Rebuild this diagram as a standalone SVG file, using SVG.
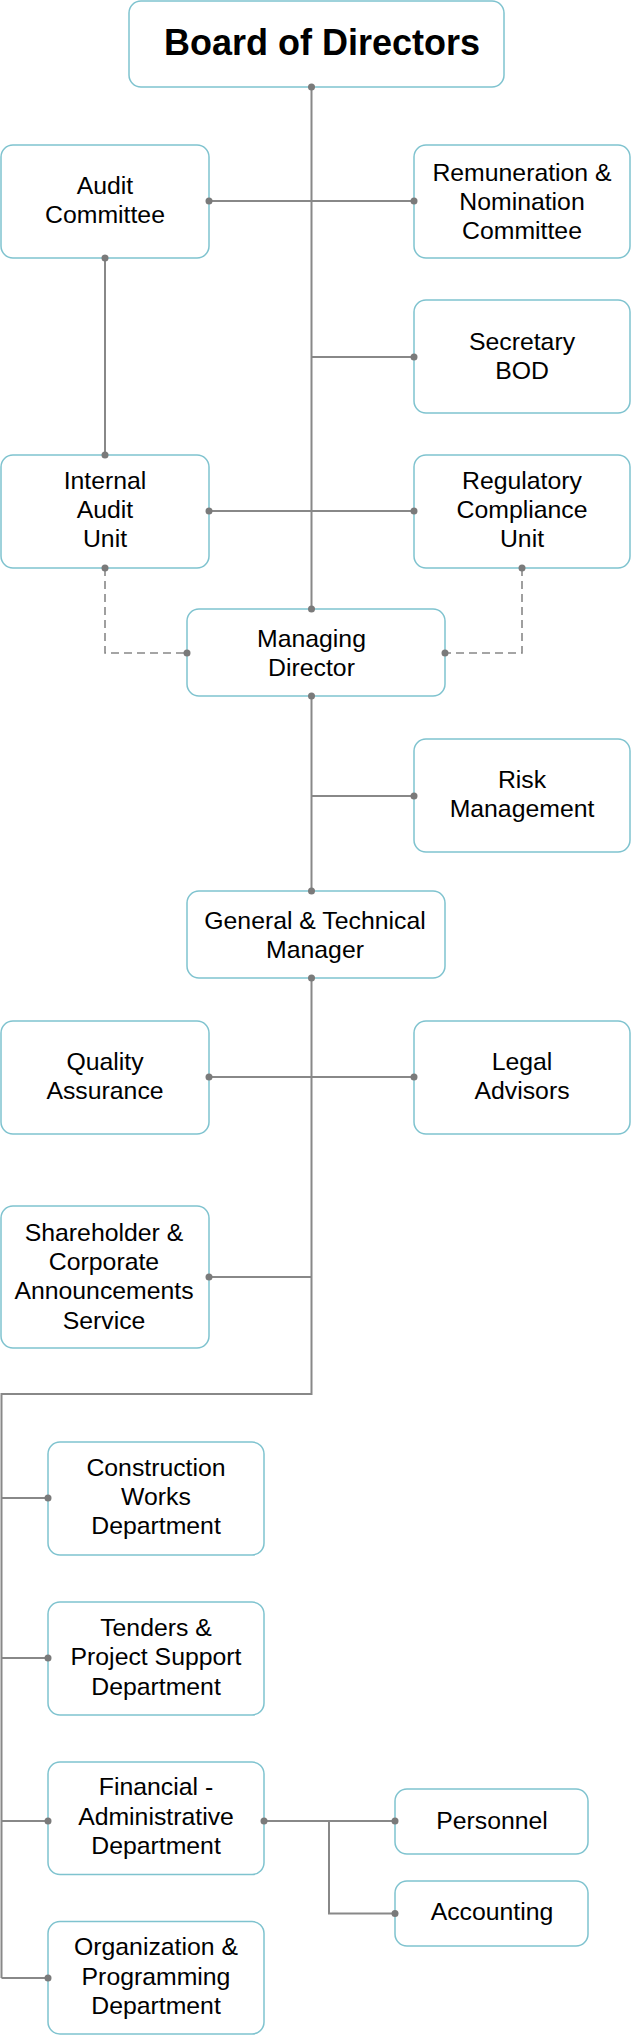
<svg xmlns="http://www.w3.org/2000/svg" width="631" height="2035" viewBox="0 0 631 2035">
<style>
.box{fill:#fff;stroke:#7fc3cf;stroke-width:1.5}
.t{font-family:"Liberation Sans",Arial,sans-serif;font-size:24.8px;fill:#000;text-anchor:middle}
.tb{font-family:"Liberation Sans",Arial,sans-serif;font-size:36px;font-weight:bold;fill:#000;text-anchor:middle}
.ln{fill:none;stroke:#888;stroke-width:2}
.dl{fill:none;stroke:#888;stroke-width:1.6;stroke-dasharray:8 5}
.dot{fill:#7a7a7a}
</style>
<rect width="631" height="2035" fill="#fff"/>
<g id="board"><rect class="box" x="129" y="1" width="375" height="86" rx="12"/><text class="tb" x="322" y="55">Board of Directors</text></g>
<g id="audit"><rect class="box" x="1" y="145" width="208" height="113" rx="12"/><text class="t" x="105" y="194">Audit</text><text class="t" x="105" y="223">Committee</text></g>
<g id="remuneration"><rect class="box" x="414" y="145" width="216" height="113" rx="12"/><text class="t" x="522" y="181">Remuneration &amp;</text><text class="t" x="522" y="210">Nomination</text><text class="t" x="522" y="238.5">Committee</text></g>
<g id="secretary"><rect class="box" x="414" y="300" width="216" height="113" rx="12"/><text class="t" x="522" y="350">Secretary</text><text class="t" x="522" y="378.5">BOD</text></g>
<g id="internal-audit"><rect class="box" x="1" y="455" width="208" height="113" rx="12"/><text class="t" x="105" y="489">Internal</text><text class="t" x="105" y="518">Audit</text><text class="t" x="105" y="547">Unit</text></g>
<g id="regulatory"><rect class="box" x="414" y="455" width="216" height="113" rx="12"/><text class="t" x="522" y="489">Regulatory</text><text class="t" x="522" y="518">Compliance</text><text class="t" x="522" y="547">Unit</text></g>
<g id="managing-director"><rect class="box" x="187" y="609" width="258" height="87" rx="12"/><text class="t" x="311.5" y="647">Managing</text><text class="t" x="311.5" y="676">Director</text></g>
<g id="risk"><rect class="box" x="414" y="739" width="216" height="113" rx="12"/><text class="t" x="522" y="788">Risk</text><text class="t" x="522" y="817">Management</text></g>
<g id="gtm"><rect class="box" x="187" y="891" width="258" height="87" rx="12"/><text class="t" x="315" y="928.5">General &amp; Technical</text><text class="t" x="315" y="958">Manager</text></g>
<g id="quality"><rect class="box" x="1" y="1021" width="208" height="113" rx="12"/><text class="t" x="105" y="1070">Quality</text><text class="t" x="105" y="1099">Assurance</text></g>
<g id="legal"><rect class="box" x="414" y="1021" width="216" height="113" rx="12"/><text class="t" x="522" y="1069.5">Legal</text><text class="t" x="522" y="1098.5">Advisors</text></g>
<g id="shareholder"><rect class="box" x="1" y="1206" width="208" height="142" rx="12"/><text class="t" x="104" y="1241">Shareholder &amp;</text><text class="t" x="104" y="1270">Corporate</text><text class="t" x="104" y="1299">Announcements</text><text class="t" x="104" y="1328.5">Service</text></g>
<g id="construction"><rect class="box" x="48" y="1442" width="216" height="113" rx="12"/><text class="t" x="156" y="1476">Construction</text><text class="t" x="156" y="1504.5">Works</text><text class="t" x="156" y="1534">Department</text></g>
<g id="tenders"><rect class="box" x="48" y="1602" width="216" height="113" rx="12"/><text class="t" x="156" y="1635.5">Tenders &amp;</text><text class="t" x="156" y="1665">Project Support</text><text class="t" x="156" y="1694.5">Department</text></g>
<g id="financial"><rect class="box" x="48" y="1762" width="216" height="112.5" rx="12"/><text class="t" x="156" y="1795">Financial -</text><text class="t" x="156" y="1825">Administrative</text><text class="t" x="156" y="1854">Department</text></g>
<g id="personnel"><rect class="box" x="395" y="1789" width="193" height="65" rx="12"/><text class="t" x="492" y="1829">Personnel</text></g>
<g id="accounting"><rect class="box" x="395" y="1881" width="193" height="65" rx="12"/><text class="t" x="492" y="1919.5">Accounting</text></g>
<g id="organization"><rect class="box" x="48" y="1921.5" width="216" height="112.5" rx="12"/><text class="t" x="156" y="1954.5">Organization &amp;</text><text class="t" x="156" y="1984.5">Programming</text><text class="t" x="156" y="2013.5">Department</text></g>
<g id="connectors">
<path class="ln" d="M311.5 87V609"/>
<path class="ln" d="M209 201H414"/>
<path class="ln" d="M311.5 357H414"/>
<path class="ln" d="M105 258V455"/>
<path class="ln" d="M209 511H414"/>
<path class="dl" d="M105 568V653H187"/>
<path class="dl" d="M522 568V653H445"/>
<path class="ln" d="M311.5 696V891"/>
<path class="ln" d="M311.5 796H414"/>
<path class="ln" d="M311.5 978V1394H1.5V1978"/>
<path class="ln" d="M209 1077H414"/>
<path class="ln" d="M209 1277H311.5"/>
<path class="ln" d="M1.5 1498H48"/>
<path class="ln" d="M1.5 1658H48"/>
<path class="ln" d="M1.5 1821H48"/>
<path class="ln" d="M1.5 1978H48"/>
<path class="ln" d="M264 1821H395M329 1821V1913.5H395"/>
<g class="dot">
<circle cx="311.5" cy="87" r="3.5"/>
<circle cx="209" cy="201" r="3.5"/>
<circle cx="414" cy="201" r="3.5"/>
<circle cx="414" cy="357" r="3.5"/>
<circle cx="105" cy="258" r="3.5"/>
<circle cx="105" cy="455" r="3.5"/>
<circle cx="209" cy="511" r="3.5"/>
<circle cx="414" cy="511" r="3.5"/>
<circle cx="105" cy="568" r="3.5"/>
<circle cx="522" cy="568" r="3.5"/>
<circle cx="187" cy="653" r="3.5"/>
<circle cx="445" cy="653" r="3.5"/>
<circle cx="311.5" cy="609" r="3.5"/>
<circle cx="311.5" cy="696" r="3.5"/>
<circle cx="414" cy="796" r="3.5"/>
<circle cx="311.5" cy="891" r="3.5"/>
<circle cx="311.5" cy="978" r="3.5"/>
<circle cx="209" cy="1077" r="3.5"/>
<circle cx="414" cy="1077" r="3.5"/>
<circle cx="209" cy="1277" r="3.5"/>
<circle cx="48" cy="1498" r="3.5"/>
<circle cx="48" cy="1658" r="3.5"/>
<circle cx="48" cy="1821" r="3.5"/>
<circle cx="48" cy="1978" r="3.5"/>
<circle cx="264" cy="1821" r="3.5"/>
<circle cx="395" cy="1821" r="3.5"/>
<circle cx="395" cy="1913.5" r="3.5"/>
</g>
</g>
</svg>
